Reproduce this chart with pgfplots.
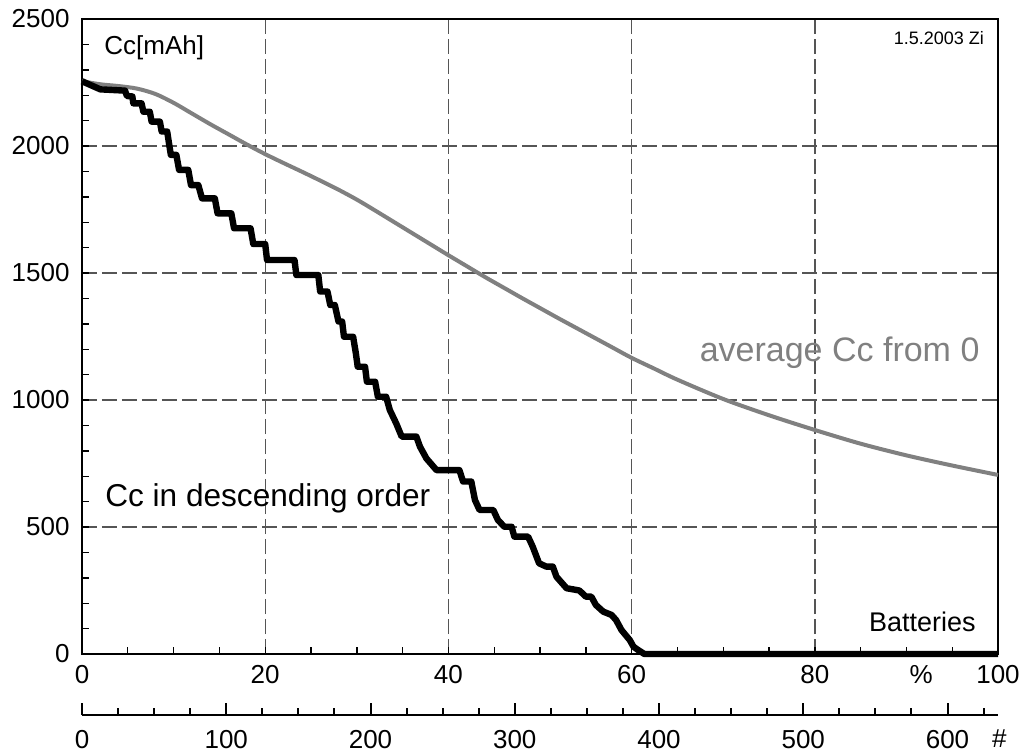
\documentclass[border=0pt]{standalone}
\usepackage{pgfplots}
\pgfplotsset{compat=1.18}
\usepackage{fontspec}
\setmainfont{Liberation Sans}
\definecolor{avggray}{RGB}{128,128,128}
\definecolor{gridgray}{RGB}{85,85,85}

\begin{document}
\begin{tikzpicture}
% page frame, same proportions as the reference
\path (-41pt,-49.5pt) rectangle (472.5pt,327pt);

\begin{axis}[%
at={(0pt,0pt)},anchor=south west,%
width=458pt,height=317.5pt,scale only axis,%
xmin=0,xmax=100,ymin=0,ymax=2500,%
xtick={0,20,...,100},ytick={0,500,...,2500},%
minor xtick={5,10,...,95},minor ytick={100,200,...,2400},%
tick align=inside,xtick pos=bottom,ytick pos=left,%
major tick length=3.5pt,minor tick length=3.5pt,%
tick style={black,line width=0.7pt},%
grid=major,major grid style={gridgray,line width=0.7pt,dash pattern=on 7.5pt off 2.5pt},%
axis line style={line width=1.4pt},%
ticklabel style={font=\fontsize{13}{15}\selectfont},%
xticklabel style={yshift=-2pt},%
yticklabel style={xshift=-2.7pt},%
/pgf/number format/assume math mode=true,%
/pgf/number format/1000 sep={},%
clip=false]

% average Cc from 0
\addplot [color=avggray,line width=2pt,smooth] coordinates{
(0,2255) (2,2243) (4,2236) (6,2226) (8,2205) (10,2170) (12,2128) (14,2086)
(16,2046) (18,2006) (20,1968) (22,1933) (24,1899) (26,1864) (28,1828)
(30,1789) (32,1746) (34,1702) (36,1658) (38,1614) (40,1570) (42,1527)
(44,1484) (46,1443) (48,1402) (50,1362) (52,1322) (54,1283) (56,1244)
(58,1205) (60,1166) (62.5,1123) (65,1080) (70,1004) (75,940) (80,882)
(85,828) (90,782) (95,742) (100,705)
};

% Cc in descending order
\addplot [color=black,line width=3.2pt,line join=round] coordinates{
(0,2255) (2.0,2223) (4.7,2218) (4.9,2197) (5.5,2195) (5.6,2168) (6.5,2168)
(6.7,2135) (7.4,2135) (7.6,2096) (8.5,2096) (8.7,2057) (9.3,2057) (9.5,2010)
(9.7,1965) (10.3,1965) (10.6,1906) (11.6,1906) (11.9,1846) (12.7,1846)
(13.1,1794) (14.5,1794) (14.8,1735) (16.3,1735) (16.6,1676) (18.4,1676)
(18.7,1614) (20.0,1614) (20.2,1551) (23.2,1551) (23.4,1492) (25.8,1492)
(26.0,1427) (26.8,1427) (27.1,1374) (27.6,1374) (28.0,1309) (28.4,1309)
(28.6,1249) (29.6,1249) (29.9,1183) (30.1,1131) (30.9,1131) (31.1,1072)
(32.0,1072) (32.3,1013) (33.2,1013) (33.6,961) (34.3,908) (34.9,856)
(36.5,856) (36.9,816) (37.6,770) (38.7,724) (41.2,724) (41.6,679) (42.5,679)
(42.9,606) (43.4,567) (44.9,567) (45.4,528) (46.1,501) (46.9,501) (47.2,462)
(48.7,462) (49.2,423) (49.9,357) (50.7,344) (51.4,344) (51.8,304) (52.9,259)
(54.3,250) (55.0,226) (55.6,226) (56.1,193) (56.9,167) (57.8,154) (58.3,134)
(58.9,94) (59.8,55) (60.2,29) (60.7,16) (61.4,0) (100,0)
};

\node[anchor=west,inner sep=0pt,font=\fontsize{13}{15}\selectfont] at (axis cs:2.4,2385) {Cc[mAh]};
\node[anchor=east,inner sep=0pt,font=\fontsize{9}{11}\selectfont] at (axis cs:98.5,2425) {1.5.2003 Zi};
\node[anchor=base west,inner sep=0pt,color=avggray,font=\fontsize{17}{20}\selectfont] at (axis cs:67.4,1150) {average Cc from 0};
\node[anchor=base west,inner sep=0pt,font=\fontsize{15.8}{19}\selectfont] at (axis cs:2.5,579) {Cc in descending order};
\node[anchor=base east,inner sep=0pt,font=\fontsize{13.5}{16}\selectfont] at (axis cs:97.6,87) {Batteries};
\node[anchor=north,yshift=-2pt,font=\fontsize{13}{15}\selectfont] at (axis cs:91.6,0) {\%};
\end{axis}

% second scale: number of batteries
\begin{axis}[%
at={(0pt,-30.5pt)},anchor=south west,%
width=458pt,height=10pt,scale only axis,%
xmin=0,xmax=635,ymin=0,ymax=1,%
axis x line=bottom,axis y line=none,%
axis line style={line width=1.4pt,-},%
xtick={0,100,...,600},%
minor xtick={25,50,75,125,150,175,225,250,275,325,350,375,425,450,475,525,550,575,625},%
tick align=inside,major tick length=6pt,minor tick length=3.5pt,%
tick style={black,line width=1pt},%
ticklabel style={font=\fontsize{13}{15}\selectfont},%
xticklabel style={yshift=-4pt},%
/pgf/number format/assume math mode=true,%
clip=false]
\addplot [draw=none] coordinates{(0,0) (635,0)};
\node[anchor=north,yshift=-4pt,font=\fontsize{13}{15}\selectfont] at (axis cs:636,0) {\#};
\end{axis}

\end{tikzpicture}
\end{document}
